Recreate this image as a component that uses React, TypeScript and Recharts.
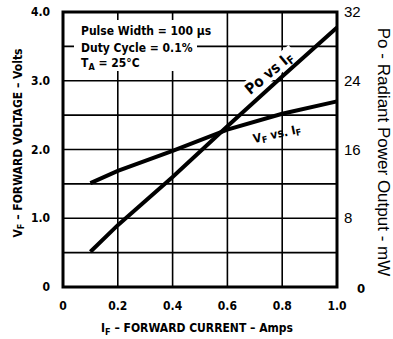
import React from 'react';
import { ComposedChart, Line, XAxis, YAxis, CartesianGrid, ReferenceArea, Customized } from 'recharts';

const currentAmps = [0.1, 0.2, 0.4, 0.6, 0.8, 1.0];
const forwardVoltage = [1.51, 1.69, 1.98, 2.29, 2.52, 2.7];
const radiantPower = [4.1, 7.2, 12.8, 18.7, 24.5, 30.2];

const xTicks = [0, 0.2, 0.4, 0.6, 0.8, 1.0];
const voltTicks = [0, 0.5, 1.0, 1.5, 2.0, 2.5, 3.0, 3.5, 4.0];
const powerTicks = [0, 8, 16, 24, 32];

const data = currentAmps.map((a, i) => ({ a, vf: forwardVoltage[i], po: radiantPower[i] }));

const NARROW = "'Liberation Sans Narrow', 'DejaVu Sans Condensed', sans-serif";
const SANS = "'Liberation Sans', Arial, sans-serif";

const LeftTick = (props: any) => {
  const { x, y, payload } = props;
  const v = payload.value;
  if (Math.abs(v - Math.round(v)) > 1e-6) return null;
  return (
    <text x={x} y={y} dy={4} textAnchor="end" fontFamily={NARROW} fontWeight="bold" fontSize={12} fill="#000">
      {v === 0 ? '0' : v.toFixed(1)}
    </text>
  );
};

const RightTick = (props: any) => {
  const { x, y, payload } = props;
  const v = payload.value;
  if (v === 0) {
    return (
      <text x={x + 13} y={y} dy={6} textAnchor="start" fontFamily={NARROW} fontWeight="bold" fontSize={13} fill="#000">0</text>
    );
  }
  return (
    <text x={x} y={y} dy={5} textAnchor="start" fontFamily={SANS} fontSize={15} fill="#000">{v}</text>
  );
};

const BottomTick = (props: any) => {
  const { x, y, payload } = props;
  const v = payload.value;
  return (
    <text x={x} y={y} dy={9} textAnchor="middle" fontFamily={NARROW} fontWeight="bold" fontSize={12} fill="#000">
      {v === 0 ? '0' : v.toFixed(1)}
    </text>
  );
};

const Overlay = () => (
  <g>
    <rect x={74} y={20} width={123} height={51} fill="#fff" />
    <text fontFamily={NARROW} fontWeight="bold" fontSize={12} fill="#000">
      <tspan x={81} y={35}>Pulse Width = 100 μs</tspan>
      <tspan x={81} y={52}>Duty Cycle = 0.1%</tspan>
    </text>
    <text x={81} y={67} fontFamily={NARROW} fontWeight="bold" fontSize={12} fill="#000">
      T<tspan fontSize={9} dy={3}>A</tspan><tspan dy={-3}> = 25°C</tspan>
    </text>
    <g transform="translate(269,73) rotate(-40)">
      <rect x={-33} y={-9} width={66} height={17} fill="#fff" />
      <text x={0} y={5} textAnchor="middle" fontFamily={NARROW} fontWeight="bold" fontSize={15} fill="#000">
        Po vs I<tspan fontSize={11} dy={3}>F</tspan>
      </text>
    </g>
    <g transform="translate(277,134) rotate(-12)">
      <text x={0} y={4} textAnchor="middle" fontFamily={NARROW} fontWeight="bold" fontSize={12} fill="#000">
        V<tspan fontSize={9} dy={2}>F</tspan><tspan dy={-2}> vs. I</tspan><tspan fontSize={9} dy={2}>F</tspan>
      </text>
    </g>
    <text transform="translate(18,143) rotate(-90)" textAnchor="middle" dominantBaseline="central" fontFamily={NARROW} fontWeight="bold" fontSize={12} fill="#000">
      V<tspan fontSize={9} dy={3}>F</tspan><tspan dy={-3}> – FORWARD VOLTAGE – Volts</tspan>
    </text>
    <text x={197} y={332} textAnchor="middle" fontFamily={NARROW} fontWeight="bold" fontSize={12} fill="#000">
      I<tspan fontSize={9} dy={3}>F</tspan><tspan dy={-3}> – FORWARD CURRENT – Amps</tspan>
    </text>
    <text transform="translate(383,152) rotate(90)" textAnchor="middle" dominantBaseline="central" fontFamily={SANS} fontSize={17} fill="#000">
      Po - Radiant Power Output - mW
    </text>
  </g>
);

export default function App() {
  return (
    <div style={{ position: 'absolute', left: 0, top: 0, width: 393, height: 339, background: '#fff' }}>
      <ComposedChart width={393} height={339} data={data} margin={{ top: 12, right: 0, left: 0, bottom: 0 }}>
        <XAxis dataKey="a" type="number" domain={[0, 1]} ticks={xTicks} height={52} tickSize={0} tickMargin={14}
          tick={<BottomTick />} axisLine={false} tickLine={false} interval={0} />
        <YAxis yAxisId="left" type="number" domain={[0, 4]} ticks={voltTicks} width={63} tickSize={0} tickMargin={13}
          tick={<LeftTick />} axisLine={false} tickLine={false} interval={0} />
        <YAxis yAxisId="right" orientation="right" type="number" domain={[0, 32]} ticks={powerTicks} width={56} tickSize={0} tickMargin={7}
          tick={<RightTick />} axisLine={false} tickLine={false} interval={0} />
        <CartesianGrid yAxisId="left" stroke="#000" strokeWidth={1.6} fill="none" />
        <ReferenceArea yAxisId="left" x1={0} x2={1} y1={0} y2={4} fill="none" stroke="#000" strokeWidth={3} ifOverflow="visible" />
        <Customized component={Overlay} />
        <Line yAxisId="left" dataKey="vf" stroke="#000" strokeWidth={4} dot={false} isAnimationActive={false} type="linear" />
        <Line yAxisId="right" dataKey="po" stroke="#000" strokeWidth={4} dot={false} isAnimationActive={false} type="linear" />
      </ComposedChart>
    </div>
  );
}
